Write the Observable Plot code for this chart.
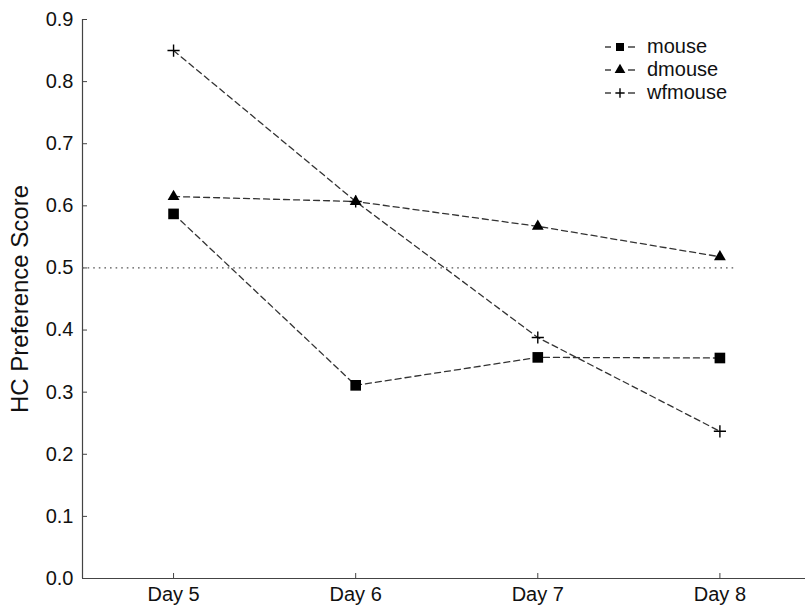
<!DOCTYPE html>
<html>
<head>
<meta charset="utf-8">
<script src="https://cdn.jsdelivr.net/npm/d3@7"></script>
<script src="https://cdn.jsdelivr.net/npm/@observablehq/plot@0.6"></script>
<style>
  html, body { margin: 0; padding: 0; background: #fff; }
  #wrap { position: relative; width: 805px; height: 606px; font-family: "Liberation Sans", Arial, sans-serif; }
  #legend { position: absolute; left: 604px; top: 35px; font-size: 20px; color: #111; }
  .row { display: flex; align-items: center; height: 23px; }
  .row svg { margin-right: 11px; }
</style>
</head>
<body>
<div id="wrap"></div>
<script>
const days = [5, 6, 7, 8];
const dayLabels = ["Day 5", "Day 6", "Day 7", "Day 8"];
const seriesNames = ["mouse", "dmouse", "wfmouse"];
const mouse = [0.587, 0.311, 0.356, 0.355];
const dmouse = [0.615, 0.607, 0.567, 0.518];
const wfmouse = [0.85, 0.607, 0.388, 0.237];
const yTicks = [0, 0.1, 0.2, 0.3, 0.4, 0.5, 0.6, 0.7, 0.8, 0.9];
const reference = 0.5;
const referenceSpan = [4.5, 8.09];

const valuesBySeries = {mouse, dmouse, wfmouse};
const data = seriesNames.flatMap(s => days.map((d, i) => ({series: s, day: d, value: valuesBySeries[s][i]})));

const font = '"Liberation Sans", Arial, sans-serif';

const chart = Plot.plot({
  width: 805,
  height: 606,
  marginLeft: 82,
  marginRight: 0,
  marginTop: 19,
  marginBottom: 28,
  style: {fontFamily: font, fontSize: "20px", color: "#111", background: "#fff"},
  x: {domain: [4.5, 8.47], axis: null},
  y: {domain: [0, 0.9], axis: null},
  marks: [
    Plot.axisY({ticks: yTicks, tickFormat: d3.format(".1f"), tickSize: -5, tickPadding: 14, stroke: "#444", fill: "#111", fontSize: 20, label: null}),
    Plot.axisX({ticks: days, tickFormat: (d) => dayLabels[days.indexOf(d)], tickSize: -5, tickPadding: 13, stroke: "#444", fill: "#111", fontSize: 20, label: null}),
    Plot.text(["HC Preference Score"], {frameAnchor: "left", textAnchor: "middle", dx: -62, rotate: -90, fontSize: 24, fill: "#111"}),
    Plot.ruleX([4.5], {stroke: "#444", strokeWidth: 1.2}),
    Plot.ruleY([0], {stroke: "#444", strokeWidth: 1.2}),
    Plot.ruleY([reference], {x1: referenceSpan[0], x2: referenceSpan[1], stroke: "#555", strokeWidth: 1.2, strokeDasharray: "1.6,4"}),
    Plot.line(data, {x: "day", y: "value", z: "series", stroke: "#333", strokeWidth: 1.3, strokeDasharray: "6,4"}),
    Plot.dot(data.filter(d => d.series === "mouse"), {x: "day", y: "value", symbol: "square", r: 6, fill: "#000", stroke: "none"}),
    Plot.dot(data.filter(d => d.series === "dmouse"), {x: "day", y: "value", symbol: "triangle", r: 4.4, fill: "#000", stroke: "none"}),
    Plot.dot(data.filter(d => d.series === "wfmouse"), {x: "day", y: "value", symbol: "plus", r: 4, stroke: "#000", strokeWidth: 1.4, fill: "none"})
  ]
});

const wrap = document.getElementById("wrap");
wrap.appendChild(chart);

const legend = document.createElement("div");
legend.id = "legend";
const legendSymbols = {mouse: [d3.symbolSquare, 64, true], dmouse: [d3.symbolTriangle, 50, true], wfmouse: [d3.symbolPlus, 30, false]};
for (const s of seriesNames) {
  const row = document.createElement("div");
  row.className = "row";
  const [sym, size, filled] = legendSymbols[s];
  const path = d3.symbol(sym, size)();
  row.innerHTML = `<svg width="32" height="16" viewBox="0 0 32 16">
    <line x1="1" y1="8" x2="7" y2="8" stroke="#333" stroke-width="1.4"/>
    <line x1="24" y1="8" x2="31" y2="8" stroke="#333" stroke-width="1.4"/>
    <path d="${path}" transform="translate(16,8)" fill="${filled ? '#000' : 'none'}" stroke="${filled ? 'none' : '#000'}" stroke-width="1.4"/>
  </svg><span>${s}</span>`;
  legend.appendChild(row);
}
wrap.appendChild(legend);
</script>
</body>
</html>
